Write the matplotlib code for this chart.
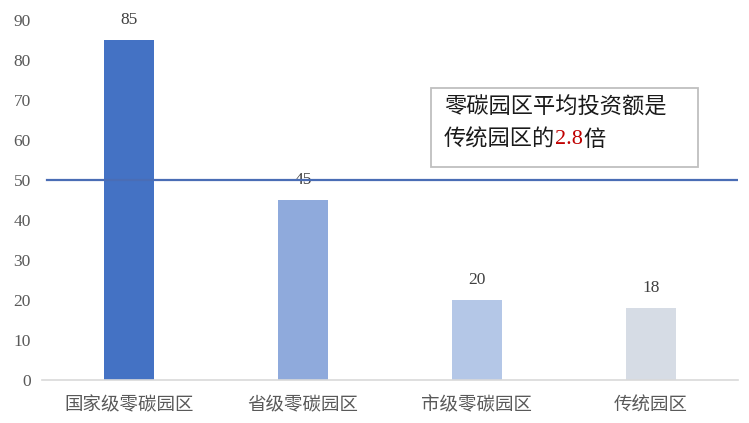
import matplotlib.pyplot as plt
from matplotlib.patches import Rectangle

plt.rcParams['font.family'] = ['Noto Sans CJK SC', 'DejaVu Sans']

# data
categories = ['国家级零碳园区', '省级零碳园区', '市级零碳园区', '传统园区']
values = [85, 45, 20, 18]
bar_colors = ['#4472C4', '#8FAADC', '#B4C7E7', '#D6DCE5']
ref_value = 50
y_ticks = [0, 10, 20, 30, 40, 50, 60, 70, 80, 90]
note_line1 = '零碳园区平均投资额是'
note_line2 = ['传统园区的', '2.8', '倍']

fig = plt.figure(figsize=(7.49, 4.23), dpi=100)
ax = fig.add_axes([0.056, 0.1017, 0.929, 0.851])

x = list(range(len(categories)))
ax.bar(x, values, width=0.29, color=bar_colors, zorder=2)
for xi, v in zip(x, values):
    ax.text(xi, v + 3.0, str(v), ha='center', va='bottom', fontsize=12.5,
            family='Liberation Serif', color='#404040')

ax.axhline(ref_value, xmin=0.007, color='#4A6DB5', lw=1.6, zorder=3)

ax.set_xlim(-0.5, len(categories) - 0.5)
ax.set_ylim(0, 90)
ax.set_yticks(y_ticks)
ax.set_yticklabels([str(t) for t in y_ticks], family='Liberation Serif',
                   fontsize=12.5, color='#595959')
ax.set_xticks(x)
ax.set_xticklabels(categories, fontsize=13.3, color='#595959',
                   fontweight='light')
ax.tick_params(length=0)
ax.tick_params(axis='x', pad=12)
ax.tick_params(axis='y', pad=8)
for s in ['top', 'right', 'left']:
    ax.spines[s].set_visible(False)
ax.spines['bottom'].set_color('#D9D9D9')
ax.spines['bottom'].set_linewidth(1.2)

# note box
W, H = 749, 423
fig.patches.append(Rectangle((431 / W, 1 - 167 / H), 267 / W, 79 / H,
                             transform=fig.transFigure, fill=False,
                             edgecolor='#BFBFBF', lw=1.3))
fig.text(444 / W, 1 - 107 / H, note_line1, fontsize=16, color='#1a1a1a',
         va='center', ha='left')
t1 = fig.text(444 / W, 1 - 139 / H, note_line2[0], fontsize=16,
              color='#1a1a1a', va='center', ha='left')
t2 = ax.annotate(note_line2[1], xy=(1, 0.5), xycoords=t1, va='center',
                 ha='left', fontsize=16, color='#C00000',
                 family='Liberation Serif')
ax.annotate(note_line2[2], xy=(1, 0.5), xycoords=t2, va='center', ha='left',
            fontsize=16, color='#1a1a1a')

fig.savefig('out.png', dpi=100)
